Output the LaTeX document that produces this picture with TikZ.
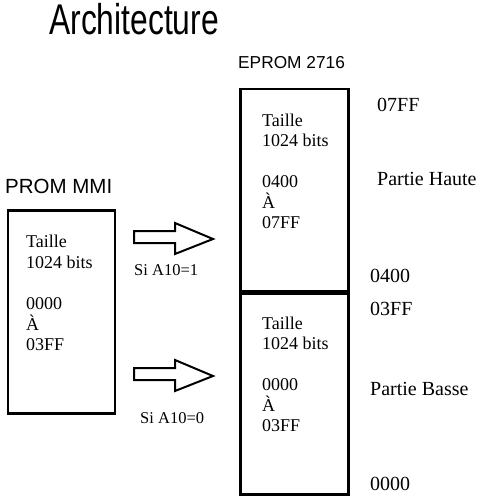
\documentclass[tikz,border=0pt]{standalone}
\usepackage{fontspec}
\setmainfont{Liberation Serif}
\newfontfamily\labelfont{Liberation Sans}
\newfontfamily\titlefont[FakeStretch=0.74]{Liberation Sans}
\usetikzlibrary{positioning}
\tikzstyle{membox} = [rectangle, draw=black, line width=2.5pt, inner sep=0pt, anchor=north west]
\tikzstyle{memtext} = [align=left, inner sep=0pt, anchor=north west, font=\fontsize{18}{20.7}\selectfont]
\tikzstyle{addr} = [inner sep=0pt, anchor=base west, font=\fontsize{20}{24}\selectfont]
\tikzstyle{cond} = [inner sep=0pt, anchor=base west, font=\fontsize{16.5}{20}\selectfont]
\tikzstyle{blockarrow} = [draw=black, line width=2pt, line join=miter, fill=white]

\begin{document}
\begin{tikzpicture}[x=1pt, y=-1pt]
    \useasboundingbox (0,0) rectangle (480,497);

    % Title
    \node[inner sep=0pt, anchor=base west, font=\titlefont\fontsize{43}{48}\selectfont] (title) at (49,35) {Architecture};

    % PROM MMI
    \node[inner sep=0pt, anchor=base west, font=\labelfont\fontsize{20.5}{24}\selectfont] (promname) at (5,193) {PROM MMI};
    \node[membox, minimum width=107pt, minimum height=203pt] (prom) at (6.5,209) {};
    \node[memtext] (promtext) at (26,234.8) {Taille\\1024 bits\\[20.7pt]0000\\À\\03FF};

    % EPROM 2716
    \node[inner sep=0pt, anchor=base west, font=\labelfont\fontsize{17.3}{21}\selectfont] (epromname) at (238,69) {EPROM 2716};
    \node[membox, minimum width=108pt, minimum height=202pt] (haute) at (239,88) {};
    \node[membox, minimum width=108pt, minimum height=203pt] (basse) at (239,290) {};
    \draw[line width=4pt] (haute.south west) -- (haute.south east);
    \node[memtext, font=\fontsize{18}{20.5}\selectfont] (hautetext) at (262,113.8) {Taille\\1024 bits\\[20.5pt]0400\\À\\07FF};
    \node[memtext, font=\fontsize{18}{20.5}\selectfont] (bassetext) at (262,316.8) {Taille\\1024 bits\\[20.5pt]0000\\À\\03FF};

    % Addresses
    \node[addr] (a07ff) at (377,112) {07FF};
    \node[addr] (phaute) at (377,185) {Partie Haute};
    \node[addr] (a0400) at (370,282) {0400};
    \node[addr] (a03ff) at (370,315) {03FF};
    \node[addr] (pbasse) at (370,395) {Partie Basse};
    \node[addr] (a0000) at (370,490) {0000};

    % Block arrows
    \coordinate (hiarrow) at (134,237);
    \coordinate (loarrow) at (134,374);
    \foreach \a in {hiarrow, loarrow}
        \draw[blockarrow] (\a) ++(0,-6) -- ++(41,0) -- ++(0,-8) -- ++(38,16) -- ++(-38,15) -- ++(0,-11) -- ++(-41,0) -- cycle;
    \node[cond] (hicond) at (134,275) {Si A10=1};
    \node[cond] (locond) at (140,423) {Si A10=0};
\end{tikzpicture}
\end{document}
